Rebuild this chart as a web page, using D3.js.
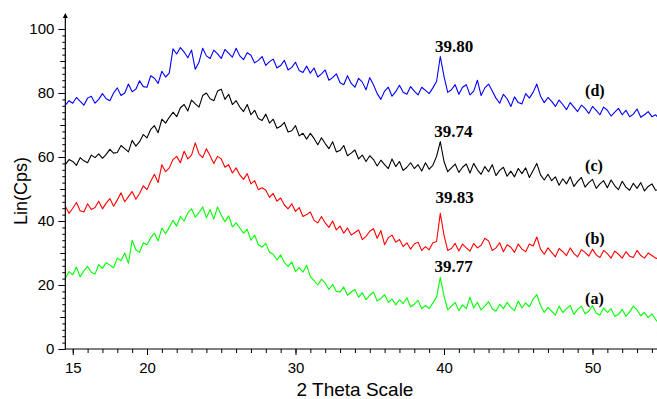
<!DOCTYPE html>
<html>
<head>
<meta charset="utf-8">
<script src="https://cdn.jsdelivr.net/npm/d3@7"></script>
<style>
  body { margin: 0; background: #fff; }
  svg { display: block; }
</style>
</head>
<body>
<div id="chart"></div>
<script>
// scan: 14.5 .. 54.5 deg 2theta, 0.25 deg step
const thetaStart = 14.5;
const thetaStep = 0.25;

// (a)
const seriesA = [
  22.0, 24.2,
  23.2, 25.6, 22.6, 24.4,
  25.8, 24.0, 23.4, 26.4,
  25.2, 27.0, 26.2, 25.4,
  28.4, 27.6, 30.0, 26.8,
  34.0, 31.0, 30.2, 33.2,
  32.6, 34.8, 36.2, 33.8,
  37.8, 36.0, 38.0, 40.2,
  38.4, 41.4, 40.0, 42.6,
  43.8, 41.2, 42.6, 44.4,
  41.0, 43.6, 40.6, 44.4,
  41.8, 39.8, 41.6, 38.2,
  39.4, 37.8, 36.2, 37.4,
  34.0, 35.6, 32.6, 31.8,
  33.0, 30.2, 29.6, 27.8,
  29.4, 27.0, 25.8, 27.2,
  24.2, 25.4, 24.0, 26.2,
  22.6, 21.4, 20.0, 21.8,
  20.6, 18.6, 20.2, 18.0,
  17.8, 19.4, 16.8, 17.8,
  18.6, 16.2, 17.6, 15.4,
  16.8, 17.8, 15.0, 15.8,
  17.0, 14.6, 15.6, 13.8,
  15.4, 14.2, 16.0, 13.2,
  14.0, 15.2, 12.6, 13.6,
  12.6, 14.4, 16.2, 22.4,
  16.6, 12.2, 13.4, 14.6,
  12.0, 13.8, 12.6, 16.2,
  12.8, 14.6, 12.2, 13.4,
  14.8, 12.6, 11.8, 14.0,
  12.6, 14.6, 13.0, 12.0,
  15.0, 12.8, 14.4, 13.2,
  15.6, 17.0, 13.6, 11.4,
  13.0, 11.8, 10.6, 13.4,
  11.4, 12.6, 13.6, 10.8,
  12.4, 13.4, 11.0, 11.8,
  13.6, 11.2, 10.6, 12.8,
  11.4, 12.6, 10.2, 10.8,
  12.4, 10.2, 11.6, 13.4,
  12.2, 10.4, 11.4, 9.8,
  11.0, 9.2, 7.8
];

// (b)
const seriesB = [
  44.6, 42.4,
  44.0, 45.8, 43.2, 42.8,
  45.4, 43.6, 44.2, 46.2,
  43.8, 45.6, 47.0, 44.6,
  46.6, 48.8, 46.0, 47.6,
  49.2, 46.8, 48.6, 51.0,
  49.8, 52.4, 54.6, 52.0,
  57.6, 55.4, 56.6, 59.2,
  60.2, 58.2, 61.8, 59.4,
  60.6, 64.4, 61.0, 59.8,
  62.6, 60.4, 58.0, 60.2,
  59.4, 56.8, 57.6, 55.0,
  56.6, 54.4, 53.0, 54.8,
  51.6, 52.6, 49.8, 50.4,
  49.6, 47.4, 48.6, 46.2,
  47.2, 45.0, 43.8, 45.4,
  43.0, 44.2, 41.4, 42.0,
  42.8, 40.2, 39.4, 41.4,
  39.4, 38.0, 40.0, 37.2,
  38.4, 36.2, 37.8, 35.6,
  36.4, 37.2, 34.2, 35.2,
  36.8, 37.6, 34.6, 37.0,
  32.6, 34.8, 35.6, 33.4,
  34.2, 32.0, 33.2, 31.2,
  32.8, 33.4, 30.8, 32.0,
  31.0, 33.2, 33.6, 42.4,
  35.6, 30.8, 31.4, 33.0,
  30.6, 32.8, 31.6, 30.6,
  33.0, 31.6, 32.4, 34.6,
  33.8, 30.8, 31.6, 33.2,
  30.4, 32.6, 31.8, 30.2,
  32.8, 31.2, 30.4, 32.8,
  32.2, 35.0, 31.2, 29.6,
  31.6, 30.2, 28.8, 31.4,
  30.4, 29.2, 31.6, 29.8,
  28.8, 31.0, 30.2, 29.0,
  31.2, 29.4, 28.6, 30.8,
  29.8, 28.4, 30.6, 29.6,
  28.4, 30.4, 29.0, 28.6,
  30.8, 29.2, 28.4, 30.0,
  29.2, 28.4, 28.2
];

// (c)
const seriesC = [
  57.6, 59.2,
  58.6, 57.4, 59.8, 58.8,
  58.2, 60.6, 59.8, 61.0,
  59.6, 60.8, 62.4, 61.2,
  61.4, 63.6, 62.6, 61.6,
  65.2, 63.4, 64.8, 67.0,
  66.0, 68.6, 69.8, 67.6,
  71.8, 70.6, 72.4, 74.0,
  72.6, 75.4, 76.4, 74.4,
  77.8, 76.6, 75.6, 79.2,
  80.0, 78.2, 77.6, 80.6,
  81.2, 78.0, 79.6, 76.4,
  77.6, 75.6, 74.2, 76.4,
  73.2, 74.6, 72.0, 71.4,
  73.4, 70.6, 71.8, 69.0,
  69.6, 70.8, 67.8, 68.2,
  69.8, 66.6, 67.4, 65.6,
  67.4, 65.8, 63.8, 66.0,
  64.2, 62.6, 64.8, 61.6,
  62.0, 63.6, 60.4, 61.2,
  62.2, 59.4, 60.6, 58.6,
  60.4, 59.2, 57.2, 59.0,
  57.6, 56.4, 59.4, 57.0,
  58.6, 55.8, 56.8, 58.2,
  56.4, 57.6, 55.6, 58.2,
  56.2, 57.4, 60.2, 64.8,
  58.6, 55.4, 56.6, 57.8,
  55.2, 56.8, 57.8, 55.0,
  58.0, 56.0, 54.6, 57.0,
  55.4, 57.6, 54.2, 55.8,
  56.8, 54.0, 55.6, 53.8,
  56.4, 54.8, 56.6, 53.6,
  55.8, 58.0, 54.4, 52.8,
  54.6, 52.6, 53.8, 51.2,
  53.2, 51.6, 53.8, 50.8,
  52.4, 53.6, 50.6, 52.0,
  53.0, 50.2, 51.6, 52.6,
  50.4, 52.8, 51.0, 49.8,
  52.4, 50.6, 49.6, 51.8,
  50.2, 52.0, 49.4, 50.8,
  51.6, 49.6, 49.8
];

// (d)
const seriesD = [
  76.2, 77.6,
  76.8, 78.6, 77.4, 76.2,
  78.4, 79.0, 76.8, 78.0,
  79.8, 78.2, 77.6, 80.0,
  81.6, 79.2, 80.0, 82.8,
  80.4, 81.2, 83.8, 82.0,
  81.8, 85.4, 84.6, 83.0,
  86.8, 85.0, 86.2, 93.8,
  92.2, 94.2, 92.8, 91.0,
  93.4, 87.4, 89.6, 94.0,
  91.6, 90.8, 93.4, 92.2,
  90.8, 93.6, 92.4, 91.2,
  94.0, 91.6, 90.4, 92.6,
  91.8, 89.4, 90.2, 91.4,
  88.6, 89.8, 90.6, 87.8,
  88.6, 90.2, 87.2, 88.0,
  89.6, 87.0, 86.4, 88.4,
  86.2, 87.8, 85.0, 86.0,
  87.2, 84.0, 84.8, 86.0,
  83.2, 82.6, 85.4, 83.0,
  81.8, 84.6, 83.4, 81.0,
  84.8, 82.6, 79.8, 78.0,
  80.6, 81.8, 79.0, 80.4,
  82.4, 80.2, 79.6, 82.0,
  80.6, 79.4, 81.8, 80.8,
  79.8, 81.6, 83.6, 91.4,
  85.2, 80.2, 81.0, 82.6,
  79.6, 81.8, 82.6, 79.4,
  80.6, 84.0, 79.2, 81.6,
  82.8, 80.6, 78.4, 76.8,
  79.6, 78.2, 75.8, 78.8,
  77.0, 76.6, 79.8, 78.4,
  80.2, 82.8, 79.0, 77.0,
  78.6, 77.4, 75.8, 77.8,
  76.4, 74.8, 77.0, 75.6,
  74.2, 76.2, 75.2, 73.6,
  75.8, 74.6, 73.2, 75.6,
  74.6, 72.8, 74.0, 75.2,
  73.2, 74.6, 72.6, 73.4,
  75.0, 72.4, 73.2, 74.2,
  72.6, 73.2, 71.8
];

const xTickLabels = [15, 20, 30, 40, 50];
const yTickLabels = [0, 20, 40, 60, 80, 100];
const curveNames = ['(a)', '(b)', '(c)', '(d)'];
const peakTheta = [39.77, 39.83, 39.74, 39.80];
const peakText = ['39.77', '39.83', '39.74', '39.80'];

const width = 657;
const height = 399;
const lineColors = ['#00ff00', '#ff0000', '#000000', '#0000ff'];

const x = d3.scaleLinear().domain([20, 50]).range([147, 592.5]);
const y = d3.scaleLinear().domain([0, 100]).range([349, 29]);

const svg = d3.select('#chart')
  .append('svg')
  .attr('width', width)
  .attr('height', height);

// curves
const line = d3.line()
  .x((d, i) => x(thetaStart + i * thetaStep))
  .y(d => y(d));

const allSeries = [seriesA, seriesB, seriesC, seriesD];

svg.append('g')
  .selectAll('path')
  .data(allSeries)
  .enter()
  .append('path')
  .attr('d', d => line(d))
  .attr('fill', 'none')
  .attr('stroke', (d, i) => lineColors[i])
  .attr('stroke-width', 1.1)
  .attr('stroke-linejoin', 'round');

// axes
const x0 = x(thetaStart);
const fontSans = 'Arial, "Liberation Sans", sans-serif';

const xMinor = svg.append('g')
  .attr('transform', `translate(0, ${y(0)})`)
  .call(d3.axisBottom(x).tickValues(d3.range(15, 55, 1)).tickSize(4).tickFormat(''));
xMinor.select('.domain').remove();

const xAxis = svg.append('g')
  .attr('transform', `translate(0, ${y(0)})`)
  .call(d3.axisBottom(x).tickValues(xTickLabels).tickSize(6).tickPadding(7));
xAxis.select('.domain').remove();
xAxis.selectAll('text')
  .attr('font-family', fontSans)
  .attr('font-size', '15px')
  .attr('fill', '#000');

const yMinor = svg.append('g')
  .attr('transform', `translate(${x0}, 0)`)
  .call(d3.axisLeft(y).tickValues(d3.range(0, 101, 2)).tickSize(3).tickFormat(''));
yMinor.select('.domain').remove();

const yMid = svg.append('g')
  .attr('transform', `translate(${x0}, 0)`)
  .call(d3.axisLeft(y).tickValues(d3.range(0, 101, 10)).tickSize(5).tickFormat(''));
yMid.select('.domain').remove();

const yAxis = svg.append('g')
  .attr('transform', `translate(${x0}, 0)`)
  .call(d3.axisLeft(y).tickValues(yTickLabels).tickSize(7).tickPadding(4));
yAxis.select('.domain').remove();
yAxis.selectAll('text')
  .attr('font-family', fontSans)
  .attr('font-size', '15px')
  .attr('fill', '#000');

svg.selectAll('.tick line').attr('stroke', '#000');

// axis lines, y axis ends with a small arrow
svg.append('line')
  .attr('x1', x0).attr('x2', width)
  .attr('y1', y(0)).attr('y2', y(0))
  .attr('stroke', '#000').attr('stroke-width', 1.2);

svg.append('line')
  .attr('x1', x0).attr('x2', x0)
  .attr('y1', y(0)).attr('y2', 15)
  .attr('stroke', '#000').attr('stroke-width', 1.2);

svg.append('path')
  .attr('d', `M${x0 - 2.5},18 L${x0},13 L${x0 + 2.5},18 Z`)
  .attr('fill', '#000');

// axis titles
svg.append('text')
  .attr('x', 355)
  .attr('y', 396)
  .attr('text-anchor', 'middle')
  .attr('font-family', fontSans)
  .attr('font-size', '19px')
  .text('2 Theta Scale');

svg.append('text')
  .attr('transform', 'translate(27, 191) rotate(-90)')
  .attr('text-anchor', 'middle')
  .attr('font-family', fontSans)
  .attr('font-size', '18px')
  .text('Lin(Cps)');

// peak labels
const fontSerif = '"Times New Roman", "Liberation Serif", serif';
const peakLabelY = [24.1, 45.5, 66.3, 92.8];

svg.append('g')
  .selectAll('text')
  .data(peakText)
  .enter()
  .append('text')
  .attr('x', (d, i) => x(peakTheta[i]) - 6)
  .attr('y', (d, i) => y(peakLabelY[i]))
  .attr('font-family', fontSerif)
  .attr('font-weight', 'bold')
  .attr('font-size', '17px')
  .attr('fill', '#000')
  .text(d => d);

// curve names
const nameY = [14.1, 32.8, 55.6, 79.1];

svg.append('g')
  .selectAll('text')
  .data(curveNames)
  .enter()
  .append('text')
  .attr('x', x(49.5))
  .attr('y', (d, i) => y(nameY[i]))
  .attr('font-family', fontSerif)
  .attr('font-weight', 'bold')
  .attr('font-size', '16px')
  .attr('fill', '#000')
  .text(d => d);
</script>
</body>
</html>
